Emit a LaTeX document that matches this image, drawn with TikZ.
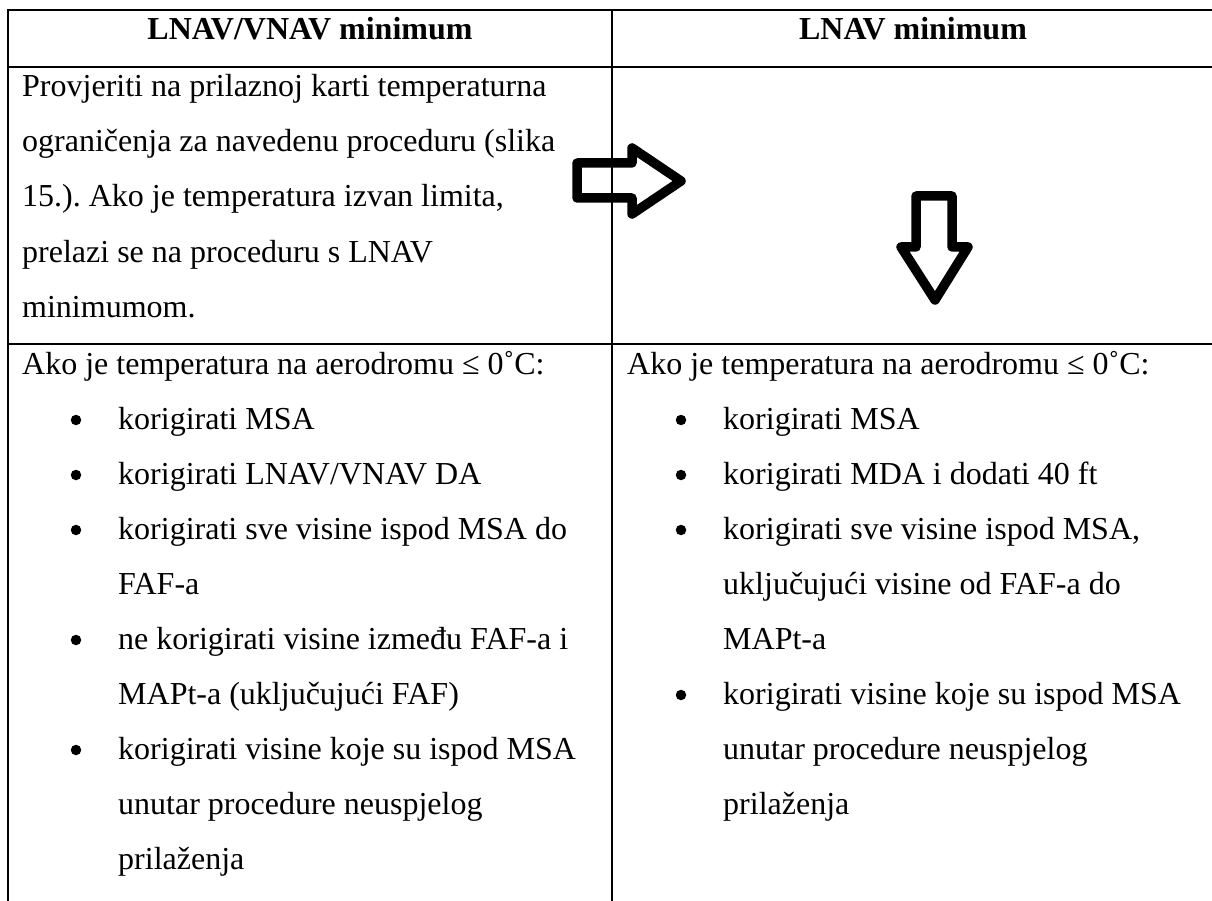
\documentclass[tikz,border=0pt]{standalone}
\usepackage{fontspec}
\setmainfont{Liberation Serif}
\begin{document}
\frenchspacing
\begin{tikzpicture}[x=1pt,y=-1pt,
  txt/.style={anchor=base west, inner sep=0pt, font=\fontsize{32}{32}\selectfont},
  hdr/.style={anchor=base, inner sep=0pt, font=\fontsize{32}{32}\selectfont\bfseries},
  rule/.style={line width=2.4pt},
  blt/.style={circle, fill=black, draw=none, inner sep=0pt, minimum size=10.5pt},
  bigarrow/.style={line width=9.5pt, line join=round}]
\useasboundingbox (0,0) rectangle (1212,901);
% table rules
\draw[rule] (6.8,10) -- (1212,10);
\draw[rule] (6.8,67) -- (1212,67);
\draw[rule] (6.8,344) -- (1212,344);
\draw[rule] (8,8.8) -- (8,901);
\draw[rule] (612,8.8) -- (612,901);
% headers
\node[hdr] (h1) at (310,40) {LNAV/VNAV minimum};
\node[hdr] (h2) at (913,40) {LNAV minimum};
% row 2 left
\node[txt] (a1) at (22,97) {Provjeriti na prilaznoj karti temperaturna};
\node[txt] (a2) at (22,152) {ograničenja za navedenu proceduru (slika};
\node[txt] (a3) at (22,207) {15.). Ako je temperatura izvan limita,};
\node[txt] (a4) at (22,262) {prelazi se na proceduru s LNAV};
\node[txt] (a5) at (22,317) {minimumom.};
% arrows
\draw[bigarrow] (577,163) -- (632,163) -- (632,148) -- (681,181) -- (632,214) -- (632,198) -- (577,198) -- cycle;
\draw[bigarrow] (916,196) -- (952,196) -- (952,247) -- (968,247) -- (935,300) -- (901,247) -- (916,247) -- cycle;
% row 3 left
\node[txt] (l0) at (22,374) {Ako je temperatura na aerodromu ≤ 0˚C:};
\node[blt] (lb1) at (76,420) {};
\node[txt] (l1) at (118,429) {korigirati MSA};
\node[blt] (lb2) at (76,475) {};
\node[txt] (l2) at (118,484) {korigirati LNAV/VNAV DA};
\node[blt] (lb3) at (76,530) {};
\node[txt] (l3) at (118,539) {korigirati sve visine ispod MSA do};
\node[txt] (l4) at (118,594) {FAF-a};
\node[blt] (lb4) at (76,640) {};
\node[txt] (l5) at (118,649) {ne korigirati visine između FAF-a i};
\node[txt] (l6) at (118,704) {MAPt-a (uključujući FAF)};
\node[blt] (lb5) at (76,750) {};
\node[txt] (l7) at (118,759) {korigirati visine koje su ispod MSA};
\node[txt] (l8) at (118,814) {unutar procedure neuspjelog};
\node[txt] (l9) at (118,869) {prilaženja};
% row 3 right
\node[txt] (r0) at (627,374) {Ako je temperatura na aerodromu ≤ 0˚C:};
\node[blt] (rb1) at (681,420) {};
\node[txt] (r1) at (723,429) {korigirati MSA};
\node[blt] (rb2) at (681,475) {};
\node[txt] (r2) at (723,484) {korigirati MDA i dodati 40 ft};
\node[blt] (rb3) at (681,530) {};
\node[txt] (r3) at (723,539) {korigirati sve visine ispod MSA,};
\node[txt] (r4) at (723,594) {uključujući visine od FAF-a do};
\node[txt] (r5) at (723,649) {MAPt-a};
\node[blt] (rb4) at (681,695) {};
\node[txt] (r6) at (723,704) {korigirati visine koje su ispod MSA};
\node[txt] (r7) at (723,759) {unutar procedure neuspjelog};
\node[txt] (r8) at (723,814) {prilaženja};
\end{tikzpicture}
\end{document}
